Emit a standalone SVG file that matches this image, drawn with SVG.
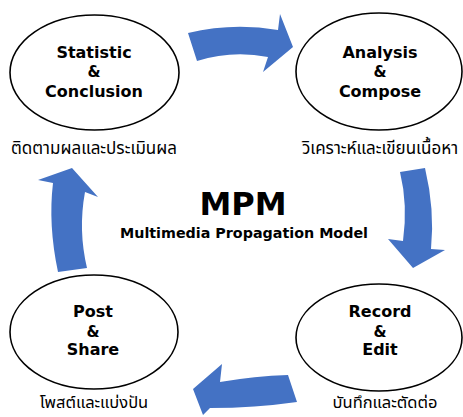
<svg xmlns="http://www.w3.org/2000/svg" width="463" height="417" viewBox="0 0 463 417">
<style>
.node ellipse{fill:#fff;stroke:#000;stroke-width:1.6}
.lbl{font-family:"DejaVu Sans","Liberation Sans",sans-serif;font-weight:bold;font-size:16px;text-anchor:middle;fill:#000}
.amp{font-size:15px}
.th{font-family:"Noto Sans Thai","Noto Sans",sans-serif;font-size:17px;text-anchor:middle;fill:#000}
.thb{font-size:16.5px}
.arr path{fill:#4472C4}
</style>
<rect width="463" height="417" fill="#fff"/>
<g id="connectors" class="arr">
<path d="M188,33 Q233,22 278,30 L280,14 L293,47 L263,72 L268,57 Q232,50 197,61 Z"/>
<path d="M400,172 L425,168 Q435,210 431,249 L445,250 L413,268 L388,239 L403,241 Q408,205 400,172 Z"/>
<path d="M288,375 L297,402 Q255,408 210,408 L203,415 L193,389 L222,364 L220,382 Q255,376 288,375 Z"/>
<path d="M58,272 Q48,225 53,183 L38,180 L72,168 L98,197 L85,192 Q78,230 87,268 Z"/>
</g>
<g id="statistic" class="node">
<ellipse cx="94.5" cy="72.5" rx="84.5" ry="57.5"/>
<text class="lbl" x="94" y="58">Statistic</text>
<text class="lbl amp" x="94" y="77">&amp;</text>
<text class="lbl" x="94" y="97">Conclusion</text>
<text class="th" x="94" y="154">ติดตามผลและประเมินผล</text>
</g>
<g id="analysis" class="node">
<ellipse cx="379" cy="71.5" rx="83" ry="58.5"/>
<text class="lbl" x="380" y="58">Analysis</text>
<text class="lbl amp" x="380" y="77">&amp;</text>
<text class="lbl" x="380" y="97">Compose</text>
<text class="th" x="380" y="154">วิเคราะห์และเขียนเนื้อหา</text>
</g>
<g id="record" class="node">
<ellipse cx="379" cy="337.5" rx="83" ry="53.5"/>
<text class="lbl" x="380" y="317">Record</text>
<text class="lbl amp" x="380" y="337">&amp;</text>
<text class="lbl" x="380" y="355">Edit</text>
<text class="th thb" x="385" y="408">บันทึกและตัดต่อ</text>
</g>
<g id="post" class="node">
<ellipse cx="94" cy="332" rx="84" ry="57"/>
<text class="lbl" x="93" y="317">Post</text>
<text class="lbl amp" x="93" y="337">&amp;</text>
<text class="lbl" x="93" y="355">Share</text>
<text class="th thb" x="94" y="408">โพสต์และแบ่งปัน</text>
</g>
<g id="title">
<text x="243" y="215" font-family="DejaVu Sans, sans-serif" font-weight="bold" font-size="32" text-anchor="middle">MPM</text>
<text x="244" y="238" font-family="DejaVu Sans, sans-serif" font-weight="bold" font-size="13.5" text-anchor="middle" textLength="248" lengthAdjust="spacingAndGlyphs">Multimedia Propagation Model</text>
</g>
</svg>
